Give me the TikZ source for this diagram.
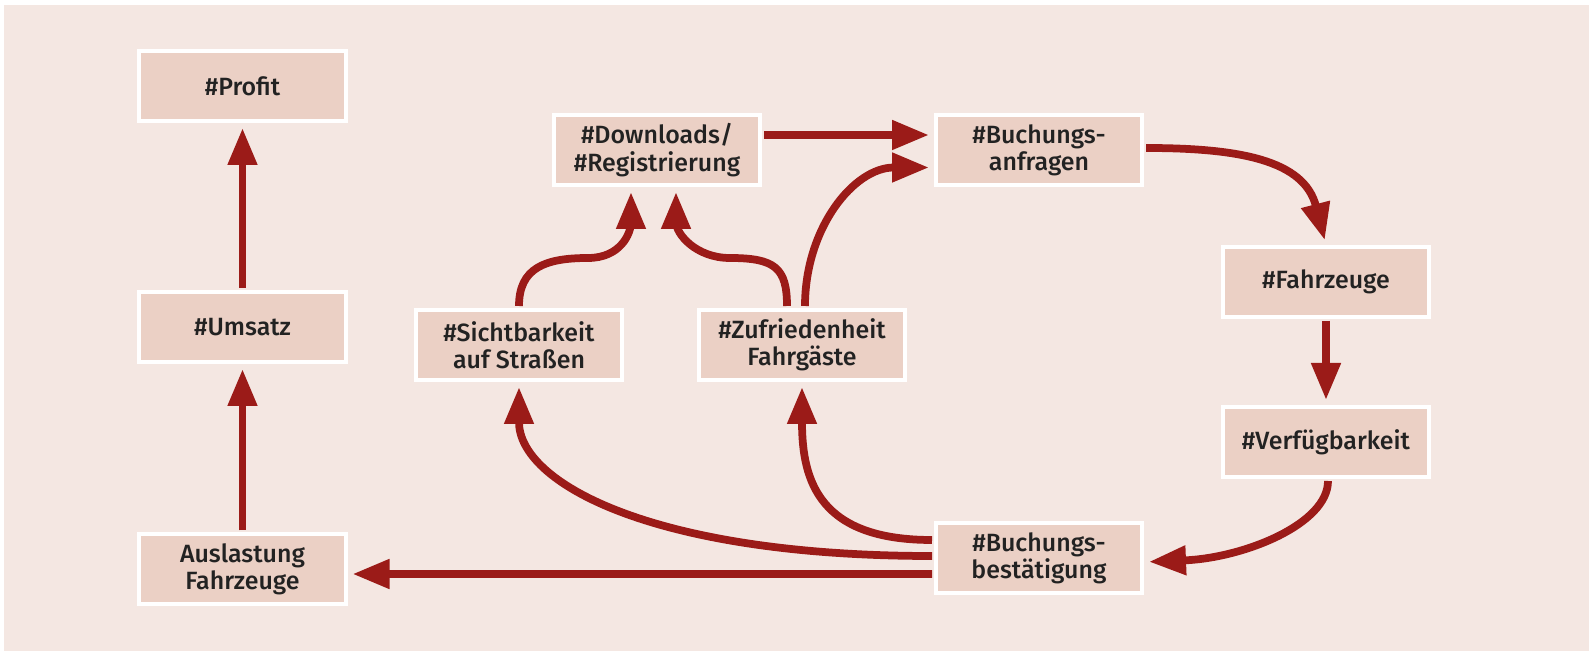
\documentclass[tikz,border=0pt]{standalone}
\usepackage{fontspec}
\setmainfont{Fira Sans}[UprightFont=* Medium]
\usepackage{tikz}
\usetikzlibrary{arrows.meta,calc}
\definecolor{bgrose}{RGB}{244,231,226}
\definecolor{boxrose}{RGB}{235,208,197}
\definecolor{darkred}{RGB}{155,27,24}
\definecolor{ink}{RGB}{34,34,34}

\begin{document}
\begin{tikzpicture}[x=0.2mm, y=-0.2mm,
	every node/.style={font=\fontsize{14.2}{15.5}\selectfont, text=ink},
	box/.style={rectangle, fill=boxrose, draw=white, line width=0.8mm, minimum width=41.2mm, minimum height=14mm, inner sep=0pt, align=center},
	flow/.style={draw=darkred, line width=1.55mm, -{Triangle[length=7.4mm, width=5.6mm]}, shorten >=1mm, shorten <=0.4mm}]
	\useasboundingbox (0,0) rectangle (1589,651);
	\fill[bgrose] (4,5) rectangle (1589,651);
	\node[box] (profit) at (242.5,86) {\#Profit};
	\node[box] (umsatz) at (242.5,327) {\#Umsatz};
	\node[box] (auslast) at (242.5,569.5) {Auslastung\\Fahrzeuge};
	\node[box] (downloads) at (657,150) {\#Downloads/\\\#Registrierung};
	\node[box] (anfragen) at (1039,150) {\#Buchungs-\\anfragen};
	\node[box] (sicht) at (519,345) {\#Sichtbarkeit\\auf Straßen};
	\node[box] (zufrieden) at (802,345) {\#Zufriedenheit\\Fahrgäste};
	\node[box] (fahrzeuge) at (1326,282) {\#Fahrzeuge};
	\node[box] (verfueg) at (1326,442) {\#Verfügbarkeit};
	\node[box] (bestaet) at (1039,558) {\#Buchungs-\\bestätigung};
	\draw[flow] (umsatz) -- (profit);
	\draw[flow] (auslast) -- (umsatz);
	\draw[flow] ($(bestaet.west)+(0,16)$) -- ($(auslast.east)+(0,4.5)$);
	\draw[flow] ($(downloads.east)+(0,-15)$) -- ($(anfragen.west)+(0,-15)$);
	\draw[flow] ($(zufrieden.north)+(3,0)$) .. controls +(0,-80) and +(-80,0) .. ($(anfragen.west)+(0,17.5)$);
	\draw[flow] (sicht.north) .. controls +(0,-40) and +(-43,0) .. (588,258) .. controls +(32,0) and +(0,12) .. (631,222) -- ($(downloads.south)+(-26,0)$);
	\draw[flow] ($(zufrieden.north)+(-15,0)$) .. controls +(0,-40) and +(45,0) .. (730,258) .. controls +(-34,0) and +(0,12) .. (676,222) -- ($(downloads.south)+(19,0)$);
	\draw[flow] ($(anfragen.east)+(0,-2)$) .. controls +(95,0) and +(-22,-85) .. (fahrzeuge.north);
	\draw[flow] (fahrzeuge) -- (verfueg);
	\draw[flow] ($(verfueg.south)+(2,0)$) .. controls +(0,45) and +(100,-4) .. ($(bestaet.east)+(0,4)$);
	\draw[flow] ($(bestaet.west)+(0,-18)$) .. controls +(-114,0) and +(0,100) .. (zufrieden.south);
	\draw[flow] ($(bestaet.west)+(0,-2)$) .. controls +(-284,0) and +(0,100) .. (sicht.south);
\end{tikzpicture}
\end{document}
